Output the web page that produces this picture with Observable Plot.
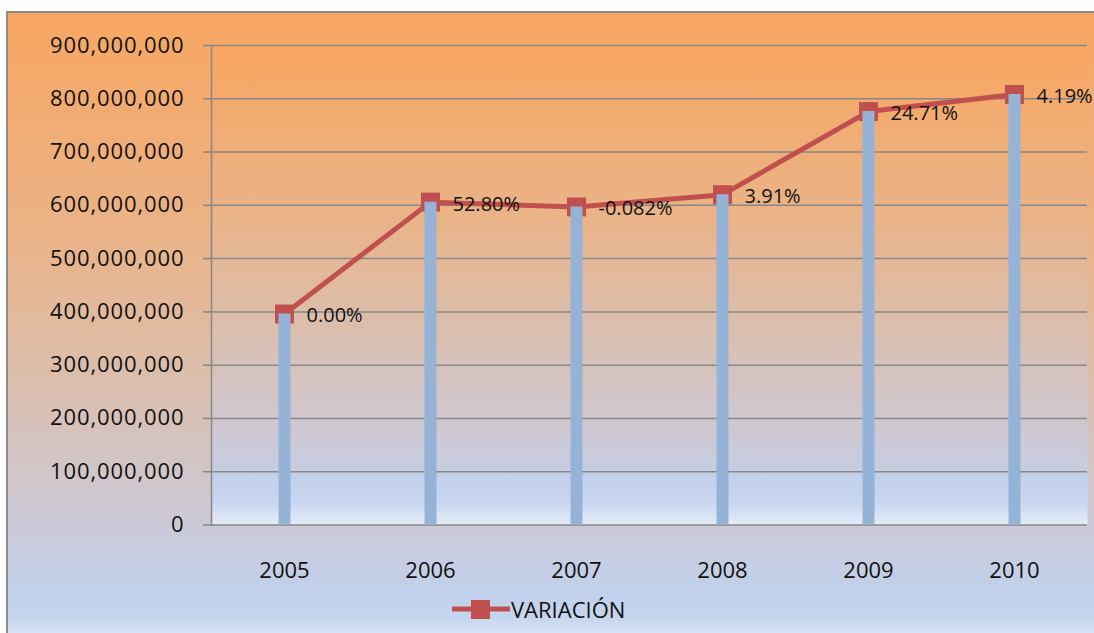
<!DOCTYPE html>
<html>
<head>
<meta charset="utf-8">
<script src="https://cdn.jsdelivr.net/npm/d3@7"></script>
<script src="https://cdn.jsdelivr.net/npm/@observablehq/plot@0.6"></script>
<style>
  html, body { margin: 0; padding: 0; width: 1094px; height: 633px; overflow: hidden; background: #fff; }
  #bg {
    position: absolute; left: 6px; top: 11px; width: 1100px; height: 630px;
    border-left: 2px solid #8a8a8a; border-top: 2px solid #8a8a8a;
    background: linear-gradient(to bottom, #F8A661 0%, #EAB387 35%, #DABFB0 60%, #CDC9D6 80%, #C5CEE4 88%, #C0D0EC 92%, #C6D5EF 96%, #E4ECF8 100%);
  }
  #chart { position: absolute; left: 0; top: 0; }
  #legend {
    position: absolute; left: 452px; top: 596px; height: 26px;
    display: flex; align-items: center;
    font-family: "Open Sans", sans-serif; font-size: 22px; color: #111;
  }
</style>
</head>
<body>
<svg width="0" height="0" style="position:absolute">
  <defs>
    <linearGradient id="plotgrad" x1="0" y1="0" x2="0" y2="1">
      <stop offset="0" stop-color="#F8A661"/>
      <stop offset="0.35" stop-color="#EAB387"/>
      <stop offset="0.6" stop-color="#DABFB0"/>
      <stop offset="0.8" stop-color="#CFC8D2"/>
      <stop offset="0.88" stop-color="#C7CDE0"/>
      <stop offset="0.9" stop-color="#C2D0EA"/>
      <stop offset="0.95" stop-color="#C7D5EF"/>
      <stop offset="1" stop-color="#E6EDF9"/>
    </linearGradient>
  </defs>
</svg>
<div id="bg"></div>
<div id="chart"></div>
<div id="legend">
  <svg width="58" height="22" style="margin-right:1px">
    <line x1="0" y1="11" x2="58" y2="11" stroke="#C0504D" stroke-width="5"></line>
    <rect x="19" y="2" width="19" height="19" fill="#C0504D"></rect>
  </svg>
  <span>VARIACIÓN</span>
</div>
<script>
const years = ["2005", "2006", "2007", "2008", "2009", "2010"];
const values = [396000000, 606000000, 597000000, 620000000, 776000000, 808000000];
const pctLabels = ["0.00%", "52.80%", "-0.082%", "3.91%", "24.71%", "4.19%"];
const yTicks = [0, 100000000, 200000000, 300000000, 400000000, 500000000, 600000000, 700000000, 800000000, 900000000];
const seriesName = "VARIACIÓN";

const data = years.map((y, i) => ({year: y, value: values[i], label: pctLabels[i]}));

const gridColor = "#878787";
const lineColor = "#C0504D";
const barColor = "#95B3D7";

const chart = Plot.plot({
  width: 1094,
  height: 585,
  marginLeft: 211,
  marginRight: 7,
  marginTop: 45,
  marginBottom: 60.5,
  style: {background: "transparent", fontFamily: "Open Sans, sans-serif", color: "#111"},
  x: {type: "point", domain: years, padding: 0.5, label: null},
  y: {domain: [0, 900000000], ticks: yTicks, label: null},
  marks: [
    Plot.frame({fill: "url(#plotgrad)", stroke: "none"}),
    Plot.gridY(yTicks, {stroke: gridColor, strokeOpacity: 1, strokeWidth: 1.5}),
    Plot.frame({anchor: "left", stroke: gridColor, strokeWidth: 1.5}),
    Plot.axisY(yTicks, {
      tickSize: 8, tickPadding: 19, stroke: gridColor, strokeWidth: 1.5,
      tickFormat: d3.format(","), fontSize: 22, fill: "#111", label: null
    }),
    Plot.axisX({tickSize: 0, tickPadding: 37, fontSize: 22, fill: "#111", label: null}),
    Plot.line(data, {x: "year", y: "value", stroke: lineColor, strokeWidth: 5}),
    Plot.dot(data, {x: "year", y: "value", symbol: "square", r: 10.7, fill: lineColor, stroke: "none"}),
    Plot.ruleX(data, {x: "year", y1: 0, y2: "value", stroke: barColor, strokeWidth: 12}),
    Plot.text(data, {x: "year", y: "value", text: "label", dx: 22, dy: 2, textAnchor: "start", fontSize: 20, fill: "#111"})
  ]
});
d3.select(chart).selectAll("[aria-label='y-axis tick label'] text").attr("letter-spacing", "0.9px");
document.getElementById("chart").appendChild(chart);
</script>
</body>
</html>
